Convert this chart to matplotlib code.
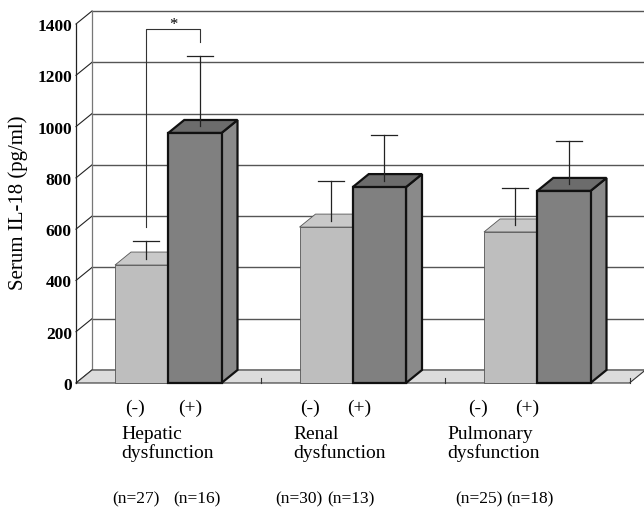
import matplotlib
matplotlib.use("Agg")
import matplotlib.pyplot as plt
from matplotlib.patches import Polygon

plt.rcParams['font.family'] = ['Liberation Serif', 'DejaVu Serif']

# data
groups = ['Hepatic', 'Renal', 'Pulmonary']
means_neg = [460, 608, 589]
means_pos = [975, 764, 749]
sd_neg = [68, 154, 146]
sd_pos = [275, 178, 169]
n_neg = [27, 30, 25]
n_pos = [16, 13, 18]
yticks = list(range(0, 1401, 200))

# layout, in pixels of the 644x510 picture
W, H = 644, 510
X0, X1 = 76, 629.5          # front floor edge
Y0, Y1 = 384, 25            # value 0 and 1400 on the front axis
PX_X = (X1 - X0) / 3.0      # px per category slot
PX_V = (Y0 - Y1) / 1400.0   # px per value unit
DX = 16 / PX_X              # depth offset in data units
DY = 13 / PX_V
BW = 53.25 / PX_X           # bar width

LIGHT = dict(front='#bebebe', top='#c9c9c9', side='#b4b4b4', edge='#555555', lw=0.6)
DARK = dict(front='#808080', top='#6c6c6c', side='#8a8a8a', edge='#111111', lw=1.6)


def px_x(px):
    return (px - X0) / PX_X


def px_y(py):
    return (Y0 - py) / PX_V


fig = plt.figure(figsize=(W / 100, H / 100), dpi=100)
ax = fig.add_axes([X0 / W, (H - Y0) / H, (X1 - X0) / W, (Y0 - Y1) / H])
ax.set_xlim(0, 3)
ax.set_ylim(0, 1400)

# back wall and gridlines
ax.add_patch(Polygon([(DX, DY), (DX, 1400 + DY), (3 + DX, 1400 + DY), (3 + DX, DY)],
                     closed=True, facecolor='white', edgecolor='none', zorder=0, clip_on=False))
for v in yticks:
    ax.plot([DX, 3 + DX], [v + DY, v + DY], color='#555555', lw=1.0, zorder=1, clip_on=False)
    ax.plot([0, DX], [v, v + DY], color='#222222', lw=0.8, zorder=1, clip_on=False)
ax.plot([DX, DX], [DY, 1400 + DY], color='#777777', lw=0.9, zorder=1, clip_on=False)

# floor
ax.add_patch(Polygon([(0, 0), (3, 0), (3 + DX, DY), (DX, DY)], closed=True,
                     facecolor='#dcdcdc', edgecolor='#333333', lw=0.8, zorder=2, clip_on=False))
for k in range(1, 4):
    ax.plot([k, k], [0, 5 / PX_V], color='#333333', lw=0.8, zorder=2, clip_on=False)


def bar3d(x0, h, st):
    x1 = x0 + BW
    kw = dict(closed=True, edgecolor=st['edge'], lw=st['lw'], zorder=3, clip_on=False,
              joinstyle='miter')
    ax.add_patch(Polygon([(x1, 0), (x1 + DX, DY), (x1 + DX, h + DY), (x1, h)],
                         facecolor=st['side'], **kw))
    ax.add_patch(Polygon([(x0, h), (x1, h), (x1 + DX, h + DY), (x0 + DX, h + DY)],
                         facecolor=st['top'], **kw))
    ax.add_patch(Polygon([(x0, 0), (x1, 0), (x1, h), (x0, h)],
                         facecolor=st['front'], **kw))


def errbar(xc, h, sd):
    x = xc + 0.3 * DX
    base = h + 0.5 * DY
    cap = h + sd + 0.5 * DY
    hw = 13 / PX_X
    ax.plot([x, x], [base, cap], color='#222222', lw=0.9, zorder=4, clip_on=False)
    ax.plot([x - hw, x + hw], [cap, cap], color='#222222', lw=0.9, zorder=4, clip_on=False)
    return x, cap


err_x = []
for i in range(3):
    left = i + 0.5 - BW
    bar3d(left, means_neg[i], LIGHT)
    bar3d(left + BW, means_pos[i], DARK)
    err_x.append((errbar(left + BW / 2, means_neg[i], sd_neg[i]),
                  errbar(left + 1.5 * BW, means_pos[i], sd_pos[i])))

# significance bracket for hepatic dysfunction
(xa, ca), (xb, cb) = err_x[0]
gap = 14 / PX_V
top = px_y(30)
ax.plot([xa, xa, xb, xb], [ca + gap, top, top, cb + gap], color='#333333', lw=0.8,
        zorder=4, clip_on=False)
ax.text((xa + xb) / 2, px_y(25), '*', ha='center', va='center', fontsize=12)

# axes styling
for side in ['top', 'right', 'bottom']:
    ax.spines[side].set_visible(False)
ax.spines['left'].set_color('#222222')
ax.spines['left'].set_linewidth(0.9)
ax.spines['left'].set_zorder(5)
ax.set_xticks([])
ax.set_yticks(yticks)
ax.set_yticklabels([str(v) for v in yticks], fontsize=12.5, fontweight='bold')
ax.tick_params(axis='y', length=0, pad=3)
ax.set_ylabel('Serum IL-18 (pg/ml)', fontsize=15)
ax.yaxis.set_label_coords((28 - X0) / (X1 - X0), (Y0 - 203) / (Y0 - Y1))

# category labels underneath
sign_x = [(135, 190), (310, 359), (478, 527)]
name_x = [121, 293, 447]
n_x = [(135.5, 196.5), (299, 350.5), (479, 530)]
for i in range(3):
    ax.text(px_x(sign_x[i][0]), px_y(408), '(-)', ha='center', va='center', fontsize=14)
    ax.text(px_x(sign_x[i][1]), px_y(408), '(+)', ha='center', va='center', fontsize=14)
    ax.text(px_x(name_x[i]), px_y(435), groups[i], ha='left', va='center', fontsize=14)
    ax.text(px_x(name_x[i]), px_y(453), 'dysfunction', ha='left', va='center', fontsize=14)
    ax.text(px_x(n_x[i][0]), px_y(499), '(n=%d)' % n_neg[i], ha='center', va='center', fontsize=12.5)
    ax.text(px_x(n_x[i][1]), px_y(499), '(n=%d)' % n_pos[i], ha='center', va='center', fontsize=12.5)

fig.savefig('out.png', dpi=100)
